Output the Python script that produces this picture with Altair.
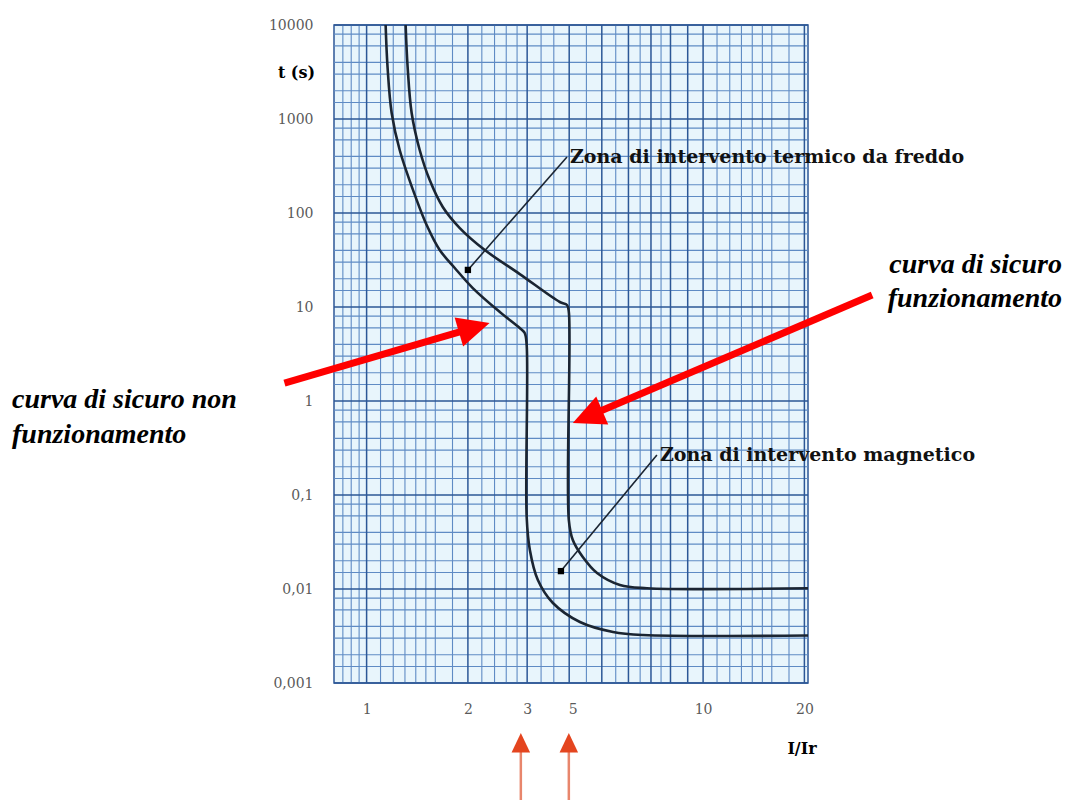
import altair as alt
import pandas as pd

# ---------------- data ----------------
# curva di sicuro non funzionamento (lower / left curve)
c1_x = [1.139, 1.154, 1.187, 1.254, 1.409, 1.508, 1.649, 1.828, 2.068, 2.488, 2.852,
        2.95, 2.99, 2.99, 3.056, 3.228, 3.578, 4.305, 5.40, 6.63, 20.5]
c1_y = [10000, 3574, 1159, 468, 137, 74.5, 40.4, 26.0, 15.9, 8.85, 5.98,
        5.29, 3.94, 0.0583, 0.026, 0.01247, 0.0071, 0.00446, 0.00349, 0.00324, 0.0032]
# curva di sicuro funzionamento (upper / right curve)
c2_x = [1.306, 1.324, 1.361, 1.438, 1.540, 1.684, 1.892, 2.245, 2.852, 3.75, 3.94,
        3.99, 3.99, 4.10, 4.39, 4.84, 5.66, 6.81, 20.5]
c2_y = [10000, 3574, 1159, 468, 224, 116, 69.2, 40.4, 22.4, 11.3, 10.5,
        8.85, 0.0542, 0.0332, 0.0219, 0.0148, 0.01104, 0.0102, 0.0102]

y_tick_values = [0.001, 0.01, 0.1, 1, 10, 100, 1000, 10000]
y_tick_labels = ["0,001", "0,01", "0,1", "1", "10", "100", "1000", "10000"]
x_tick_values = [1, 2, 3, 4.1, 10, 20]
x_tick_labels = ["1", "2", "3", "5", "10", "20"]

x_grid_major = [1, 2, 3, 4, 5, 6, 7, 8, 9, 10, 20]
x_grid_minor = [0.85, 0.9, 0.95, 1.1, 1.2, 1.3, 1.4, 1.5, 1.6, 1.8, 2.2, 2.4, 2.6, 2.8,
                3.3, 3.6, 4.5, 5.5, 6.5, 7.5, 11, 12, 13, 14, 15, 16, 18]
y_decades = [0.001, 0.01, 0.1, 1, 10, 100, 1000, 10000]
y_minor_multiples = [1.5, 2, 3, 4, 6, 8]

# annotations: leader lines (start at label, end at dot)
zone_labels = ["Zona di intervento termico da freddo", "Zona di intervento magnetico"]
zone_x1 = [3.94, 7.29]
zone_y1 = [395, 0.267]
zone_x2 = [2.0, 3.78]
zone_y2 = [24.8, 0.0155]

# big red arrows
red_tail_x = [0.570, 31.8]
red_tail_y = [1.55, 13.4]
red_end_x = [1.97, 4.80]
red_end_y = [5.69, 0.745]
red_tip_x = [2.32, 4.10]
red_tip_y = [6.76, 0.583]
red_angle = [73.7, 246.8]

# small arrows under the x axis
bottom_arrow_x = [2.873, 3.99]

# ---------------- chart ----------------
W, H = 474, 658
xs = alt.Scale(type="log", domain=[0.8, 20.5], nice=False)
ys = alt.Scale(type="log", domain=[0.001, 10000], nice=False)


def label_expr(vals, labels):
    expr = "''"
    for v, l in reversed(list(zip(vals, labels))):
        expr = f"abs(datum.value - {v}) < {v * 1e-6} ? '{l}' : ({expr})"
    return expr


LABEL_FONT = "DejaVu Serif"
xaxis = alt.Axis(values=x_tick_values, labelExpr=label_expr(x_tick_values, x_tick_labels),
                 title=None, grid=False, ticks=False, tickSize=0, domain=False,
                 labelFont=LABEL_FONT, labelFontSize=14, labelColor="#5a5a5a",
                 labelPadding=19, labelFlush=False)
yaxis = alt.Axis(values=y_tick_values, labelExpr=label_expr(y_tick_values, y_tick_labels),
                 title=None, grid=False, ticks=False, tickSize=0, domain=False,
                 labelFont=LABEL_FONT, labelFontSize=14, labelColor="#5a5a5a",
                 labelPadding=21, labelFlush=False)

y_minor = [d * m for d in y_decades[:-1] for m in y_minor_multiples]

MINOR = "#5f8bc4"
MAJOR = "#2c5796"
gx_minor = alt.Chart(pd.DataFrame({"v": x_grid_minor})).mark_rule(
    color=MINOR, strokeWidth=1.1).encode(x=alt.X("v:Q", scale=xs, axis=xaxis))
gx_major = alt.Chart(pd.DataFrame({"v": x_grid_major})).mark_rule(
    color=MAJOR, strokeWidth=1.5).encode(x=alt.X("v:Q", scale=xs, axis=xaxis))
gy_minor = alt.Chart(pd.DataFrame({"v": y_minor})).mark_rule(
    color=MINOR, strokeWidth=1.1).encode(y=alt.Y("v:Q", scale=ys, axis=yaxis))
gy_major = alt.Chart(pd.DataFrame({"v": y_decades})).mark_rule(
    color=MAJOR, strokeWidth=1.5).encode(y=alt.Y("v:Q", scale=ys, axis=yaxis))

curves_df = pd.DataFrame({
    "x": c1_x + c2_x,
    "y": c1_y + c2_y,
    "curve": ["c1"] * len(c1_x) + ["c2"] * len(c2_x),
    "o": list(range(len(c1_x))) + list(range(len(c2_x))),
})
curves = alt.Chart(curves_df).mark_line(
    color="#1b2532", strokeWidth=2.6, strokeJoin="round", interpolate="catmull-rom").encode(
    x=alt.X("x:Q", scale=xs, axis=xaxis),
    y=alt.Y("y:Q", scale=ys, axis=yaxis),
    detail="curve:N",
    order="o:Q",
)

zone_df = pd.DataFrame({"label": zone_labels, "x1": zone_x1, "y1": zone_y1,
                        "x2": zone_x2, "y2": zone_y2})
leaders = alt.Chart(zone_df).mark_rule(color="#1b2532", strokeWidth=1.6).encode(
    x=alt.X("x1:Q", scale=xs, axis=xaxis), y=alt.Y("y1:Q", scale=ys, axis=yaxis),
    x2="x2:Q", y2="y2:Q")
dots = alt.Chart(zone_df).mark_square(color="#000000", size=40, opacity=1).encode(
    x=alt.X("x2:Q", scale=xs, axis=xaxis), y=alt.Y("y2:Q", scale=ys, axis=yaxis))
zone_text = alt.Chart(zone_df).mark_text(
    font="DejaVu Serif", fontWeight="bold", fontSize=19, align="left", baseline="middle",
    dx=3, color="#111111").encode(
    x=alt.X("x1:Q", scale=xs, axis=xaxis), y=alt.Y("y1:Q", scale=ys, axis=yaxis),
    text="label:N")

red_df = pd.DataFrame({"tx": red_tail_x, "ty": red_tail_y, "ex": red_end_x, "ey": red_end_y,
                       "px": red_tip_x, "py": red_tip_y, "a": red_angle})
red_shaft = alt.Chart(red_df).mark_rule(color="#ff0000", strokeWidth=7, strokeCap="butt").encode(
    x=alt.X("tx:Q", scale=xs, axis=xaxis), y=alt.Y("ty:Q", scale=ys, axis=yaxis),
    x2="ex:Q", y2="ey:Q")
red_head = alt.Chart(red_df).mark_point(
    shape="M0,0L0.95,2L-0.95,2Z", filled=True, size=1024, color="#ff0000", opacity=1,
    strokeWidth=0).encode(
    x=alt.X("px:Q", scale=xs, axis=xaxis), y=alt.Y("py:Q", scale=ys, axis=yaxis),
    angle=alt.Angle("a:Q", scale=None))

bot_df = pd.DataFrame({"x": bottom_arrow_x})
bot_shaft = alt.Chart(bot_df).mark_rule(color="#e8866c", strokeWidth=2.5).encode(
    x=alt.X("x:Q", scale=xs, axis=xaxis), y=alt.value(725), y2=alt.value(775))
bot_head = alt.Chart(bot_df).mark_point(
    shape="M0,0L0.95,2L-0.95,2Z", filled=True, size=380, color="#e4451f", opacity=1,
    strokeWidth=0).encode(
    x=alt.X("x:Q", scale=xs, axis=xaxis), y=alt.value(708))

one = pd.DataFrame({"k": [0]})


def txt(s, x, y, align, size, font, weight="bold", style="normal"):
    return alt.Chart(one).mark_text(
        text=s, font=font, fontSize=size, fontWeight=weight, fontStyle=style,
        align=align, baseline="alphabetic", color="#000000").encode(
        x=alt.value(x), y=alt.value(y))


big = "Liberation Serif"
texts = [
    txt("curva di sicuro", 728, 248, "right", 28, big, style="italic"),
    txt("funzionamento", 728, 282, "right", 28, big, style="italic"),
    txt("curva di sicuro non", -322, 383, "left", 28, big, style="italic"),
    txt("funzionamento", -322, 418, "left", 28, big, style="italic"),
    txt("t (s)", -19, 53, "right", 16, "DejaVu Serif"),
    txt("I/Ir", 468, 729, "center", 16, "DejaVu Serif"),
]

chart = alt.layer(
    gx_minor, gy_minor, gx_major, gy_major, curves, leaders, dots, zone_text,
    red_shaft, red_head, bot_shaft, bot_head, *texts
).properties(
    width=W, height=H,
    autosize=alt.AutoSizeParams(type="none"),
    padding={"left": 326, "top": 17, "right": 256, "bottom": 118},
    background="#ffffff",
).configure_view(
    fill="#e8f5fc", stroke="#2c5796", strokeWidth=1.5
)

chart.save("out.html", embed_options={"renderer": "svg", "actions": False})
